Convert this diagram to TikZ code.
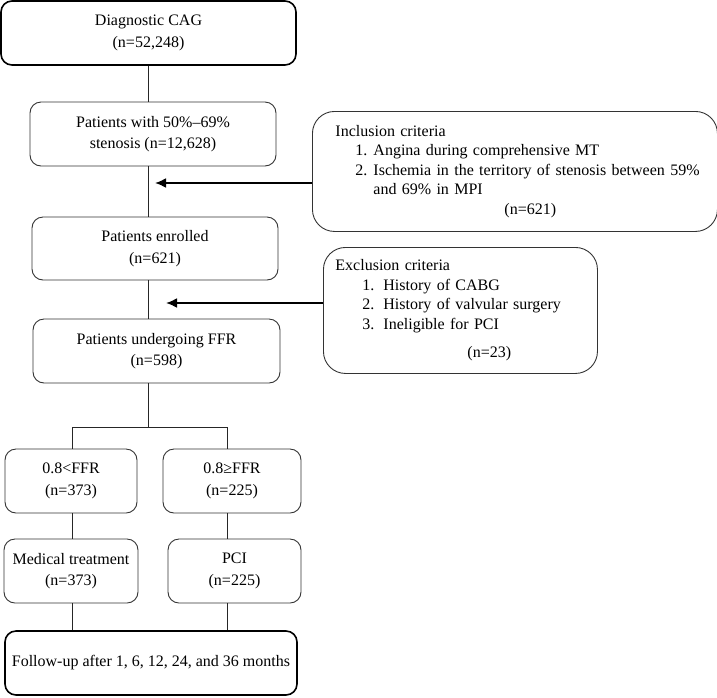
\documentclass[tikz,border=0pt]{standalone}
\usepackage{fontspec}
\setmainfont{Liberation Serif}
\usepackage{tikz}
\usetikzlibrary{arrows.meta}

\begin{document}
\begin{tikzpicture}[x=1pt,y=-1pt,
  box/.style={draw=black!80,line width=0.9pt,rounded corners=11pt,align=center,
    font=\fontsize{16}{21.5}\selectfont,inner sep=0pt},
  mainbox/.style={box,draw=black,line width=1.6pt},
  critbox/.style={box,align=left,rounded corners=22pt,anchor=north west},
  link/.style={draw=black!85,line width=0.9pt},
  arr/.style={draw=black,line width=2pt,-{Latex[length=11pt,width=10pt]}}]
\useasboundingbox (0,0) rectangle (717,697);
\node[mainbox,minimum width=295pt,minimum height=64pt] (cag) at (148.5,33) {Diagnostic CAG\\(n=52,248)};
\node[box,minimum width=246pt,minimum height=64pt] (sten) at (153,134) {Patients with 50\%--69\%\\stenosis (n=12,628)};
\node[box,minimum width=246pt,minimum height=63pt] (enr) at (155,248.5) {Patients enrolled\\(n=621)};
\node[box,minimum width=247pt,minimum height=64pt] (ffr) at (156.5,351) {Patients undergoing FFR\\(n=598)};
\node[box,minimum width=132pt,minimum height=64pt] (lt) at (71,481) {0.8<FFR\\(n=373)};
\node[box,minimum width=138pt,minimum height=64pt] (ge) at (232,481) {0.8≥FFR\\(n=225)};
\node[box,minimum width=134pt,minimum height=64pt] (med) at (71,571) {Medical treatment\\(n=373)};
\node[box,minimum width=133pt,minimum height=64pt] (pci) at (234.5,571) {PCI\\(n=225)};
\node[mainbox,minimum width=292pt,minimum height=64pt] (fu) at (151,663) {Follow-up after 1, 6, 12, 24, and 36 months};
% criteria boxes
\node[critbox,minimum width=405pt,minimum height=120pt,text width=359pt,inner xsep=23pt,
  font=\fontsize{16}{19.5}\selectfont] (incl) at (312,111) {Inclusion criteria\\
  \hspace*{20pt}\makebox[18pt][l]{1.}Angina during comprehensive MT\\
  \mbox{\hspace*{20pt}\makebox[18pt][l]{2.}Ischemia in the territory of stenosis between 59\%}\\
  \hspace*{38pt}and 69\% in MPI\\
  \hspace*{169pt}(n=621)};
\node[critbox,minimum width=274pt,minimum height=126pt,text width=250pt,inner xsep=12pt,
  font=\fontsize{16}{19.5}\selectfont] (excl) at (323,247) {Exclusion criteria\\
  \hspace*{27pt}\makebox[21pt][l]{1.}History of CABG\\
  \hspace*{27pt}\makebox[21pt][l]{2.}History of valvular surgery\\
  \hspace*{27pt}\makebox[21pt][l]{3.}Ineligible for PCI\\[9pt]
  \hspace*{132pt}(n=23)};
% spine
\coordinate (split) at (148,427);
\coordinate (lcol) at (72,427);
\coordinate (rcol) at (227,427);
\draw[link] (split |- cag.south) -- (split |- sten.north);
\draw[link] (split |- sten.south) -- (split |- enr.north);
\draw[link] (split |- enr.south) -- (split |- ffr.north);
\draw[link] (split |- ffr.south) -- (split);
\draw[link] (lcol) -- (rcol);
\draw[link] (lcol) -- (lcol |- lt.north);
\draw[link] (rcol) -- (rcol |- ge.north);
\draw[link] (lcol |- lt.south) -- (lcol |- med.north);
\draw[link] (rcol |- ge.south) -- (rcol |- pci.north);
\draw[link] (lcol |- med.south) -- (lcol |- fu.north);
\draw[link] (rcol |- pci.south) -- (rcol |- fu.north);
% arrows
\coordinate (inctip) at (155,183);
\coordinate (exctip) at (166,303);
\draw[arr] (inctip -| incl.west) -- (inctip);
\draw[arr] (exctip -| excl.west) -- (exctip);
\end{tikzpicture}
\end{document}
